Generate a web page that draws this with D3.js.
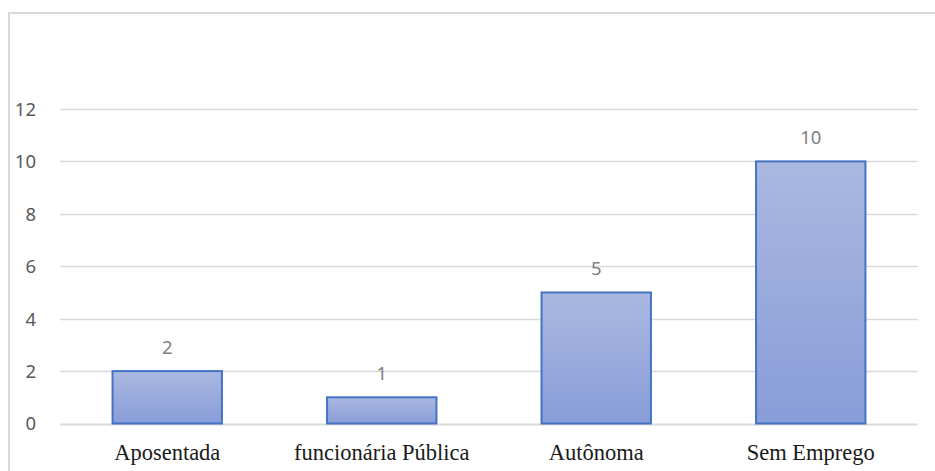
<!DOCTYPE html>
<html>
<head>
<meta charset="utf-8">
<script src="https://cdn.jsdelivr.net/npm/d3@7"></script>
<style>
  html, body { margin: 0; padding: 0; background: #ffffff; }
  svg { display: block; }
</style>
</head>
<body>
<svg id="chart" width="935" height="471"></svg>
<script>
// Situação profissional: contagem por categoria
const categories = ["Aposentada", "funcionária Pública", "Autônoma", "Sem Emprego"];
const values = [2, 1, 5, 10];
const yTicks = [0, 2, 4, 6, 8, 10, 12];

const W = 935, H = 471;
const plot = { left: 60, right: 918, top: 109, bottom: 423.5 };

const svg = d3.select("#chart");

// Chart frame (top and left edges visible within the canvas)
svg.append("path")
  .attr("d", `M9,${H} L9,13 L${W},13`)
  .attr("fill", "none")
  .attr("stroke", "#d9d9d9")
  .attr("stroke-width", 2);

const x = d3.scaleBand()
  .domain(categories)
  .range([plot.left, plot.right])
  .paddingInner(0.49)
  .paddingOuter(0.245);

const y = d3.scaleLinear()
  .domain([0, 12])
  .range([plot.bottom, plot.top]);

// Bar fill gradient
const defs = svg.append("defs");
const grad = defs.append("linearGradient")
  .attr("id", "barFill")
  .attr("x1", 0).attr("y1", 0).attr("x2", 0).attr("y2", 1);
grad.append("stop").attr("offset", "0%").attr("stop-color", "#aab8e1");
grad.append("stop").attr("offset", "100%").attr("stop-color", "#889dd8");

// Horizontal gridlines
svg.append("g")
  .selectAll("line")
  .data(yTicks)
  .join("line")
  .attr("x1", plot.left)
  .attr("x2", plot.right)
  .attr("y1", d => Math.round(y(d)) + 0.5)
  .attr("y2", d => Math.round(y(d)) + 0.5)
  .attr("stroke", "#d9d9d9")
  .attr("stroke-width", d => d === 0 ? 2 : 1.3);

// Y axis tick labels
const yAxis = d3.axisLeft(y).tickValues(yTicks).tickSize(0).tickPadding(0);
const gy = svg.append("g")
  .attr("transform", "translate(36,0)")
  .call(yAxis);
gy.select(".domain").remove();
gy.selectAll("text")
  .attr("font-family", "'Noto Sans', sans-serif")
  .attr("font-size", "18.5px")
  .attr("fill", "#595959")
  .attr("dy", "0.35em");

// Bars
svg.append("g")
  .selectAll("rect")
  .data(values)
  .join("rect")
  .attr("x", (d, i) => x(categories[i]))
  .attr("y", d => y(d))
  .attr("width", x.bandwidth())
  .attr("height", d => y(0) - y(d))
  .attr("fill", "url(#barFill)")
  .attr("stroke", "#4472c4")
  .attr("stroke-width", 2);

// Value labels
svg.append("g")
  .selectAll("text")
  .data(values)
  .join("text")
  .attr("x", (d, i) => x(categories[i]) + x.bandwidth() / 2)
  .attr("y", d => y(d) - 17)
  .attr("text-anchor", "middle")
  .attr("font-family", "'Noto Sans', sans-serif")
  .attr("font-size", "18.5px")
  .attr("fill", "#7f7f7f")
  .text(d => d);

// X axis category labels
const xAxis = d3.axisBottom(x).tickSize(0).tickPadding(0);
const gx = svg.append("g")
  .attr("transform", `translate(0,${plot.bottom})`)
  .call(xAxis);
gx.select(".domain").remove();
gx.selectAll("text")
  .attr("font-family", "'Liberation Serif', 'Times New Roman', serif")
  .attr("font-size", "22.5px")
  .attr("fill", "#1a1a1a")
  .attr("dy", null)
  .attr("y", 36);
</script>
</body>
</html>
